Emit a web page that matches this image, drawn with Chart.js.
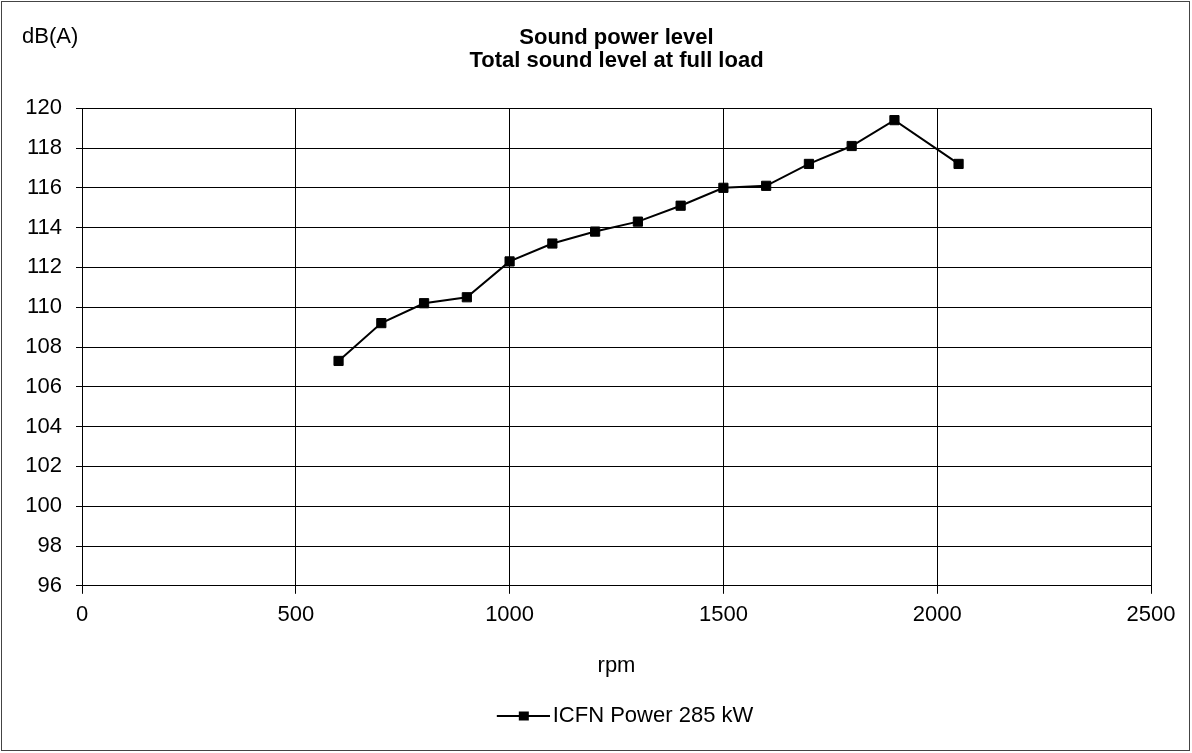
<!DOCTYPE html>
<html>
<head>
<meta charset="utf-8">
<script src="https://cdn.jsdelivr.net/npm/chart.js@4.4.1/dist/chart.umd.min.js"></script>
<style>
  html, body { margin: 0; padding: 0; background: #fff; }
  #wrap { width: 1192px; height: 753px; position: relative; }
</style>
</head>
<body>
<div id="wrap"><canvas id="soundChart" width="1192" height="753"></canvas></div>
<script>
// Données
const rpmValues = [600, 700, 800, 900, 1000, 1100, 1200, 1300, 1400, 1500, 1600, 1700, 1800, 1900, 2050];
const soundLevels = [107.3, 109.2, 110.2, 110.5, 112.3, 113.2, 113.8, 114.3, 115.1, 116.0, 116.1, 117.2, 118.1, 119.4, 117.2];
const seriesLabel = 'ICFN Power 285 kW';
const titleLines = ['Sound power level', 'Total sound level at full load'];
const yUnit = 'dB(A)';
const xTitle = 'rpm';

const FONT = '"Liberation Sans", Arial, sans-serif';
const FS = 22;

// Petit symbole de légende : trait + carré (décalé vers la droite dans l'image)
function legendSymbol() {
    const c = document.createElement('canvas');
    c.width = 78;
    c.height = 12;
    const g = c.getContext('2d');
    g.strokeStyle = '#000';
    g.lineWidth = 2;
    g.beginPath();
    g.moveTo(25, 6);
    g.lineTo(78, 6);
    g.stroke();
    g.fillStyle = '#000';
    g.fillRect(47, 1.5, 10, 9);
    return c;
}

// Cadre extérieur + libellé d'unité en haut à gauche
const framePlugin = {
    id: 'frame',
    afterDraw(chart) {
        const ctx = chart.ctx;
        ctx.save();
        ctx.strokeStyle = '#444';
        ctx.lineWidth = 1;
        ctx.strokeRect(1.5, 1.5, 1188, 749);
        ctx.fillStyle = '#000';
        ctx.font = FS + 'px ' + FONT;
        ctx.textBaseline = 'middle';
        ctx.textAlign = 'left';
        ctx.fillText(yUnit, 22, 37);
        ctx.restore();
    }
};

const ctx = document.getElementById('soundChart').getContext('2d');
new Chart(ctx, {
    type: 'line',
    data: {
        datasets: [{
            label: seriesLabel,
            data: rpmValues.map((x, i) => ({ x: x, y: soundLevels[i] })),
            borderColor: '#000',
            backgroundColor: '#000',
            borderWidth: 2,
            pointStyle: 'rect',
            pointRadius: 6.5,
            pointBorderWidth: 1,
            pointBackgroundColor: '#000',
            pointBorderColor: '#000',
            tension: 0,
            fill: false
        }]
    },
    options: {
        responsive: false,
        animation: false,
        devicePixelRatio: 1,
        layout: { padding: { left: 0, right: 41, top: 0, bottom: 16 } },
        plugins: {
            title: {
                display: true,
                fullSize: false,
                text: titleLines,
                color: '#000',
                font: { family: FONT, size: FS, weight: 'bold', lineHeight: 1.05 },
                padding: { top: 26, bottom: 36 }
            },
            legend: {
                position: 'bottom',
                fullSize: false,
                labels: {
                    color: '#000',
                    font: { family: FONT, size: FS },
                    usePointStyle: true,
                    pointStyleWidth: 62,
                    padding: 22,
                    generateLabels: function (chart) {
                        return [{
                            text: seriesLabel,
                            pointStyle: legendSymbol(),
                            fillStyle: '#000',
                            strokeStyle: '#000',
                            lineWidth: 0,
                            datasetIndex: 0,
                            hidden: false
                        }];
                    }
                }
            },
            tooltip: { enabled: false }
        },
        scales: {
            x: {
                type: 'linear',
                min: 0,
                max: 2500,
                ticks: {
                    stepSize: 500,
                    color: '#000',
                    font: { family: FONT, size: FS },
                    padding: 8,
                    maxRotation: 0,
                    callback: function (value) { return String(value); }
                },
                grid: { color: '#000', lineWidth: 1, tickLength: 8, drawTicks: true },
                border: { color: '#000', width: 1 },
                title: {
                    display: true,
                    text: xTitle,
                    color: '#000',
                    font: { family: FONT, size: FS },
                    padding: { top: 4, bottom: 4 }
                },
                afterFit: function (scale) { scale.height = 97.2; }
            },
            y: {
                min: 96,
                max: 120,
                ticks: {
                    stepSize: 2,
                    color: '#000',
                    font: { family: FONT, size: FS },
                    padding: 14
                },
                grid: { color: '#000', lineWidth: 1, tickLength: 6, drawTicks: true },
                border: { color: '#000', width: 1 },
                afterFit: function (scale) { scale.width = 82; }
            }
        }
    },
    plugins: [framePlugin]
});
</script>
</body>
</html>
